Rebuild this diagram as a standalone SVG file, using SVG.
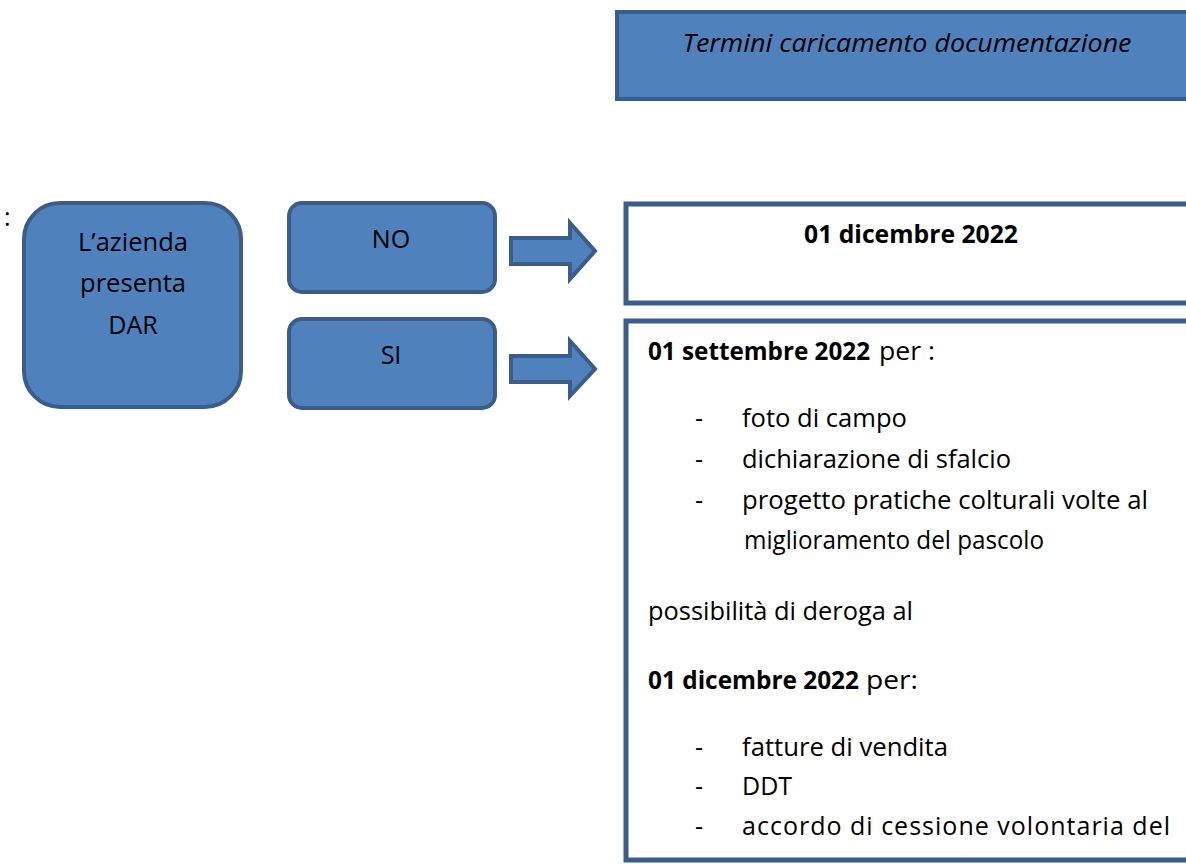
<svg xmlns="http://www.w3.org/2000/svg" width="1186" height="864" viewBox="0 0 1186 864">
<style>
.t{font-family:"Open Sans","Liberation Sans",sans-serif;font-size:25px;fill:#000}
.b{font-weight:bold}
.shape{fill:#4f81bd;stroke:#3a5d89;stroke-width:4}
.box{fill:#fff;stroke:#3a5d89;stroke-width:5}
</style>
<rect width="1186" height="864" fill="#fff"/>
<g id="title">
<rect class="shape" x="617" y="12" width="600" height="87"/>
<text class="t" x="907" y="52" text-anchor="middle" font-style="italic" textLength="449" lengthAdjust="spacingAndGlyphs">Termini caricamento documentazione</text>
</g>
<text class="t" x="4" y="226">:</text>
<g id="azienda">
<rect class="shape" x="24" y="203" width="217" height="204" rx="36"/>
<text class="t" x="133" y="251" text-anchor="middle" textLength="110" lengthAdjust="spacingAndGlyphs">L’azienda</text>
<text class="t" x="133" y="292" text-anchor="middle" textLength="106" lengthAdjust="spacingAndGlyphs">presenta</text>
<text class="t" x="133" y="334" text-anchor="middle">DAR</text>
</g>
<g id="no">
<rect class="shape" x="289" y="203" width="206" height="89" rx="13"/>
<text class="t" x="391" y="248" text-anchor="middle">NO</text>
</g>
<g id="si">
<rect class="shape" x="289" y="319" width="206" height="89" rx="13"/>
<text class="t" x="391" y="364" text-anchor="middle">SI</text>
</g>
<g id="connectors">
<polygon class="shape" stroke-width="3" points="511,238 570,238 570,223 595,251 570,279 570,264 511,264"/>
<polygon class="shape" stroke-width="3" points="511,356 570,356 570,341 595,369 570,396 570,382 511,382"/>
</g>
<g id="dic">
<rect class="box" x="626" y="204" width="600" height="99"/>
<text class="t b" x="911" y="243" text-anchor="middle" textLength="214" lengthAdjust="spacingAndGlyphs">01 dicembre 2022</text>
</g>
<g id="set">
<rect class="box" x="626" y="321" width="600" height="539"/>
<text class="t b" x="648" y="360" textLength="222" lengthAdjust="spacingAndGlyphs">01 settembre 2022</text>
<text class="t" x="879" y="360" textLength="56" lengthAdjust="spacingAndGlyphs">per :</text>
<text class="t" x="695" y="427">-</text>
<text class="t" x="742" y="427" textLength="165" lengthAdjust="spacingAndGlyphs">foto di campo</text>
<text class="t" x="695" y="468">-</text>
<text class="t" x="742" y="468" textLength="269" lengthAdjust="spacingAndGlyphs">dichiarazione di sfalcio</text>
<text class="t" x="695" y="509">-</text>
<text class="t" x="742" y="509" textLength="406" lengthAdjust="spacingAndGlyphs">progetto pratiche colturali volte al</text>
<text class="t" x="744" y="549" textLength="300" lengthAdjust="spacingAndGlyphs">miglioramento del pascolo</text>
<text class="t" x="648" y="620" textLength="265" lengthAdjust="spacingAndGlyphs">possibilità di deroga al</text>
<text class="t b" x="648" y="689" textLength="211" lengthAdjust="spacingAndGlyphs">01 dicembre 2022</text>
<text class="t" x="866" y="689" textLength="52" lengthAdjust="spacingAndGlyphs">per:</text>
<text class="t" x="695" y="756">-</text>
<text class="t" x="742" y="756" textLength="206" lengthAdjust="spacingAndGlyphs">fatture di vendita</text>
<text class="t" x="695" y="795">-</text>
<text class="t" x="742" y="795">DDT</text>
<text class="t" x="695" y="835">-</text>
<text class="t" x="742" y="835" textLength="428" lengthAdjust="spacing">accordo di cessione volontaria del</text>
</g>
</svg>
